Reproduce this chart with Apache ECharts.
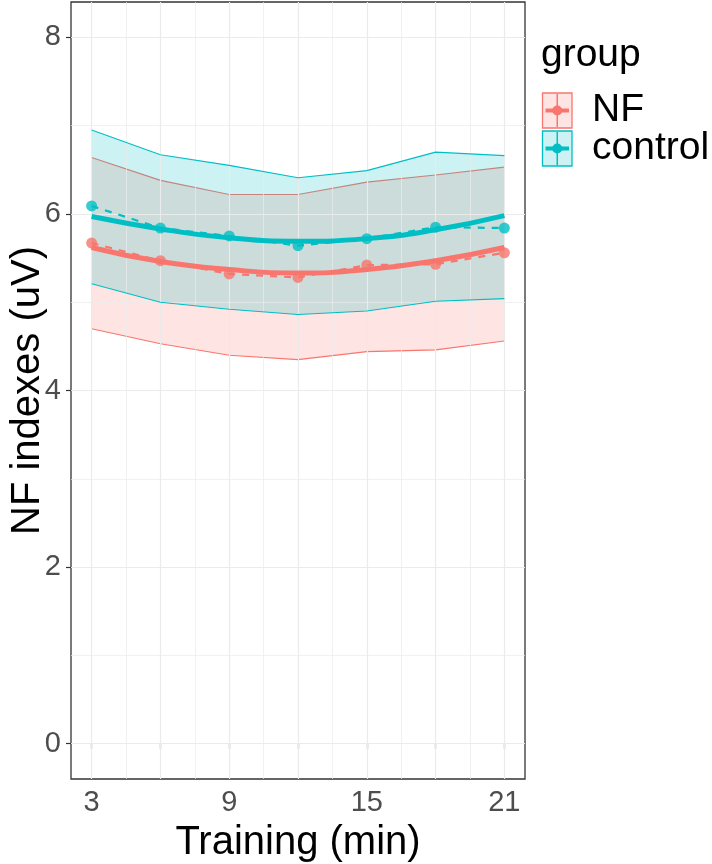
<!DOCTYPE html>
<html>
<head>
<meta charset="utf-8">
<script src="https://cdn.jsdelivr.net/npm/echarts@6/dist/echarts.min.js"></script>
<style>
html,body{margin:0;padding:0;background:#fff;}
#chart{width:712px;height:864px;}
</style>
</head>
<body>
<div id="chart"></div>
<script>
// ---- data ----
const minutes = [3, 6, 9, 12, 15, 18, 21];
const groups = ['NF', 'control'];
const nfMean = [5.67, 5.47, 5.32, 5.28, 5.42, 5.43, 5.56];
const ctrlMean = [6.09, 5.84, 5.75, 5.64, 5.72, 5.85, 5.84];
const nfFit = [5.62, 5.46, 5.37, 5.33, 5.37, 5.47, 5.62];
const ctrlFit = [5.97, 5.83, 5.73, 5.69, 5.72, 5.82, 5.98];
const nfUpper = [6.64, 6.38, 6.22, 6.22, 6.36, 6.44, 6.53];
const nfLower = [4.70, 4.53, 4.40, 4.35, 4.44, 4.46, 4.56];
const ctrlUpper = [6.95, 6.67, 6.55, 6.41, 6.49, 6.70, 6.66];
const ctrlLower = [5.21, 5.00, 4.92, 4.86, 4.90, 5.01, 5.04];
const xTicks = [3, 6, 9, 12, 15, 18, 21];
const xTickLabels = [3, 9, 15, 21];
const xMinorGrid = [4.5, 7.5, 10.5, 13.5, 16.5, 19.5];
const yTicks = [0, 2, 4, 6, 8];
const yMinorGrid = [1, 3, 5, 7];

// ---- style ----
const colNF = '#F8766D';
const colCtrl = '#00BFC4';
const fillNF = 'rgba(248,118,109,0.2)';
const fillCtrl = 'rgba(0,191,196,0.2)';
const FONT = '"Liberation Sans", Arial, sans-serif';

const pairs = (ys) => minutes.map((x, i) => [x, ys[i]]);

function ribbon(upper, lower, fill, z) {
  return {
    type: 'custom',
    z: z,
    silent: true,
    data: [[minutes[0], lower[0]]],
    renderItem: function (params, api) {
      const pts = [];
      for (let i = 0; i < minutes.length; i++) pts.push(api.coord([minutes[i], upper[i]]));
      for (let i = minutes.length - 1; i >= 0; i--) pts.push(api.coord([minutes[i], lower[i]]));
      return { type: 'polygon', shape: { points: pts }, style: { fill: fill, stroke: null } };
    }
  };
}
function edge(ys, color, z) {
  return { type: 'line', data: pairs(ys), z: z, symbol: 'none', silent: true,
    lineStyle: { color: color, width: 1.1 } };
}

const gridLines = [];
xMinorGrid.forEach(v => gridLines.push({ xAxis: v, lineStyle: { width: 0.7 } }));
xTicks.forEach(v => gridLines.push({ xAxis: v, lineStyle: { width: 1.2 } }));
yMinorGrid.forEach(v => gridLines.push({ yAxis: v, lineStyle: { width: 0.7 } }));
yTicks.forEach(v => gridLines.push({ yAxis: v, lineStyle: { width: 1.2 } }));

const chart = echarts.init(document.getElementById('chart'), null, { renderer: 'canvas' });

const option = {
  animation: false,
  backgroundColor: '#ffffff',
  textStyle: { fontFamily: FONT },
  grid: { left: 71, right: 187, top: 2, bottom: 85, show: true, containLabel: false,
    outerBoundsMode: 'none',
    borderColor: '#333333', borderWidth: 1.3, backgroundColor: 'transparent' },
  xAxis: {
    type: 'value', min: 2.1, max: 21.9,
    axisLine: { show: false },
    axisTick: { show: true, customValues: xTicks, length: 5, lineStyle: { color: '#333333', width: 1.2 } },
    axisLabel: { customValues: xTickLabels, fontSize: 29, color: '#4D4D4D', margin: 9, fontFamily: FONT },
    splitLine: { show: false },
    name: 'Training (min)', nameLocation: 'middle', nameGap: 44,
    nameTextStyle: { fontSize: 40, color: '#000000', fontFamily: FONT }
  },
  yAxis: {
    type: 'value', min: -0.4, max: 8.4,
    axisLine: { show: false },
    axisTick: { show: true, customValues: yTicks, length: 5, lineStyle: { color: '#333333', width: 1.2 } },
    axisLabel: { customValues: yTicks, fontSize: 29, color: '#4D4D4D', margin: 10, fontFamily: FONT },
    splitLine: { show: false },
    name: 'NF indexes (uV)', nameLocation: 'middle', nameGap: 23, nameMoveOverlap: false,
    nameTextStyle: { fontSize: 40, color: '#000000', fontFamily: FONT }
  },
  series: [
    { type: 'line', data: [], z: 1, silent: true, symbol: 'none',
      markLine: { silent: true, symbol: ['none', 'none'], symbolSize: 0, label: { show: false },
        lineStyle: { color: '#EBEBEB', type: 'solid' }, data: gridLines } },
    ribbon(nfUpper, nfLower, fillNF, 2),
    edge(nfUpper, colNF, 3),
    edge(nfLower, colNF, 3),
    ribbon(ctrlUpper, ctrlLower, fillCtrl, 4),
    edge(ctrlUpper, colCtrl, 5),
    edge(ctrlLower, colCtrl, 5),
    { type: 'line', name: 'NF', data: pairs(nfMean), z: 6, symbol: 'none',
      lineStyle: { color: colNF, width: 2.2, type: [7, 7] } },
    { type: 'line', name: 'control', data: pairs(ctrlMean), z: 6, symbol: 'none',
      lineStyle: { color: colCtrl, width: 2.2, type: [7, 7] } },
    { type: 'line', data: pairs(nfFit), z: 7, symbol: 'none', smooth: true,
      lineStyle: { color: colNF, width: 5 } },
    { type: 'line', data: pairs(ctrlFit), z: 7, symbol: 'none', smooth: true,
      lineStyle: { color: colCtrl, width: 5 } },
    { type: 'scatter', data: pairs(nfMean), z: 8, symbolSize: 11,
      itemStyle: { color: colNF } },
    { type: 'scatter', data: pairs(ctrlMean), z: 8, symbolSize: 11,
      itemStyle: { color: colCtrl } }
  ],
  graphic: (function () {
    const els = [];
    els.push({ type: 'text', left: 541, top: 36, silent: true,
      style: { text: 'group', fontSize: 39, fill: '#000', fontFamily: FONT } });
    const keys = [
      { name: groups[0], color: colNF, fill: fillNF, y: 93 },
      { name: groups[1], color: colCtrl, fill: fillCtrl, y: 131 }
    ];
    keys.forEach(k => {
      const x0 = 542.5, w = 29.5, h = 35, cx = x0 + w / 2, cy = k.y + h / 2;
      els.push({ type: 'rect', silent: true, shape: { x: x0, y: k.y, width: w, height: h },
        style: { fill: k.fill, stroke: k.color, lineWidth: 1.3 } });
      els.push({ type: 'line', silent: true, shape: { x1: cx, y1: k.y + 1, x2: cx, y2: k.y + h - 1 },
        style: { stroke: k.color, lineWidth: 1.5 } });
      els.push({ type: 'line', silent: true, shape: { x1: x0 + 3, y1: cy, x2: x0 + w - 3, y2: cy },
        style: { stroke: k.color, lineWidth: 4 } });
      els.push({ type: 'circle', silent: true, shape: { cx: cx, cy: cy, r: 5 },
        style: { fill: k.color } });
      els.push({ type: 'text', silent: true, x: 592, y: cy,
        style: { text: k.name, fontSize: 39, fill: '#000', fontFamily: FONT, verticalAlign: 'middle' } });
    });
    return els;
  })()
};
chart.setOption(option);
</script>
</body>
</html>
